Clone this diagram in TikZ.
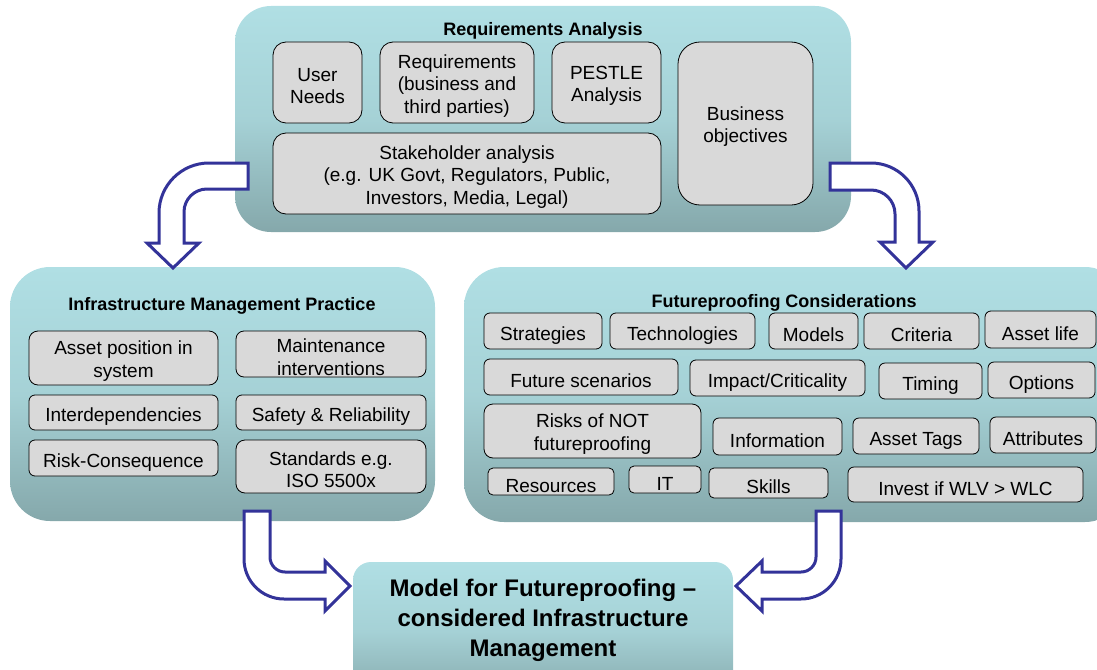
\documentclass[tikz,border=0pt]{standalone}
\usepackage{fontspec}
\setmainfont{Liberation Sans}
\definecolor{paneltop}{RGB}{176,223,228}
\definecolor{panelbot}{RGB}{133,168,171}
\definecolor{boxgrey}{RGB}{217,217,217}
\definecolor{arrowblue}{RGB}{51,51,153}
\newcommand\tallstrut{\rule{0pt}{20pt}}
\begin{document}
\begin{tikzpicture}[x=1pt,y=-1pt,
    panel/.style={rectangle, rounded corners=#1, inner sep=0pt,
      top color=paneltop, bottom color=panelbot, middle color=paneltop!75!panelbot},
    item/.style={rectangle, rounded corners=#1, draw=black, line width=0.8pt,
      fill=boxgrey, inner sep=0pt, align=center, font=\fontsize{19}{22.5}\selectfont,
      execute at begin node={\rule{0pt}{22pt}}},
    item/.default=6pt,
    heading/.style={inner sep=0pt, font=\bfseries\fontsize{18}{22}\selectfont},
    bigheading/.style={inner sep=0pt, align=center, font=\bfseries\fontsize{24}{30}\selectfont},
    blockarrow/.style={draw=arrowblue, line width=3pt, fill=white}]
  \useasboundingbox (0,0) rectangle (1097,669);
  \clip (0,0) rectangle (1097,669);
  \node[panel=36pt, minimum width=616pt, minimum height=226pt] (req) at (543,119) {};
  \node[panel=40pt, minimum width=425pt, minimum height=254pt] (imp) at (222.5,394) {};
  \node[panel=40pt, minimum width=661pt, minimum height=255pt] (fut) at (794.5,394.5) {};
  \node[panel=18pt, minimum width=380pt, minimum height=138pt] (model) at (543,631) {};
  \node[heading] (reqt) at (543,31) {Requirements Analysis};
  \node[heading] (impt) at (222,306) {Infrastructure Management Practice};
  \node[heading] (futt) at (784,303) {Futureproofing Considerations};
  \node[bigheading] (modelt) at (543,620) {Model for Futureproofing --\\considered Infrastructure\\Management};
  \node[item=13pt, minimum width=89pt, minimum height=81pt] (user) at (317.5,82.5) {\tallstrut User\\Needs};
  \node[item=13pt, minimum width=154pt, minimum height=81pt] (reqs) at (457,82.5) {\tallstrut Requirements\\(business and\\third parties)};
  \node[item=13pt, minimum width=109pt, minimum height=81pt] (pestle) at (606.5,82.5) {\tallstrut PESTLE\\Analysis};
  \node[item=22pt, minimum width=135pt, minimum height=163pt] (busobj) at (745.5,123.5) {\tallstrut Business\\objectives};
  \node[item=13pt, minimum width=388pt, minimum height=81pt] (stake) at (467,173.5) {\tallstrut Stakeholder analysis\\(e.g. UK Govt, Regulators, Public,\\Investors, Media, Legal)};
  \node[item=9pt, minimum width=189pt, minimum height=54pt] (assetpos) at (123.5,358) {\tallstrut Asset position in\\system};
  \node[item=8pt, minimum width=190pt, minimum height=46pt] (maint) at (331,354) {\tallstrut Maintenance\\interventions};
  \node[item, minimum width=189pt, minimum height=35pt] (interdep) at (123.5,412.5) {Interdependencies};
  \node[item, minimum width=190pt, minimum height=35pt] (safety) at (331,412.5) {Safety \& Reliability};
  \node[item, minimum width=189pt, minimum height=36pt] (riskcon) at (123.5,458) {Risk-Consequence};
  \node[item=9pt, minimum width=190pt, minimum height=53pt] (standards) at (331,466.5) {\tallstrut Standards e.g.\\ISO 5500x};
  \node[item, minimum width=118pt, minimum height=36pt] (strat) at (543,331) {Strategies};
  \node[item, minimum width=145pt, minimum height=36pt] (tech) at (682.5,331) {Technologies};
  \node[item, minimum width=89pt, minimum height=36pt] (models) at (813.5,331) {Models};
  \node[item, minimum width=115pt, minimum height=36pt] (crit) at (921.5,331) {Criteria};
  \node[item, minimum width=111pt, minimum height=37pt] (life) at (1040.5,329.5) {Asset life};
  \node[item, minimum width=194pt, minimum height=36pt] (scen) at (581,377) {Future scenarios};
  \node[item, minimum width=175pt, minimum height=36pt] (impact) at (777.5,378) {Impact/Criticality};
  \node[item, minimum width=103pt, minimum height=36pt] (timing) at (930.5,381) {Timing};
  \node[item, minimum width=107pt, minimum height=36pt] (options) at (1041.5,380) {Options};
  \node[item=9pt, minimum width=217pt, minimum height=54pt] (risknot) at (592.5,431) {\tallstrut Risks of NOT\\futureproofing};
  \node[item, minimum width=129pt, minimum height=37pt] (info) at (777.5,436.5) {Information};
  \node[item, minimum width=126pt, minimum height=36pt] (tags) at (916,436) {Asset Tags};
  \node[item, minimum width=106pt, minimum height=36pt] (attr) at (1043,435) {Attributes};
  \node[item=5pt, minimum width=126pt, minimum height=27pt] (res) at (551,481.5) {Resources};
  \node[item=5pt, minimum width=72pt, minimum height=27pt] (it) at (665,479.5) {IT};
  \node[item=5pt, minimum width=119pt, minimum height=30pt] (skills) at (768.5,483) {Skills};
  \node[item, minimum width=235pt, minimum height=35pt] (invest) at (965.5,484.5) {Invest if WLV > WLC};
  \draw[blockarrow] (248,163) [rounded corners=50pt] -- (159,163) [sharp corners] -- (159,243)
    -- (147,243) -- (173,268) -- (199,243) -- (184,243) [rounded corners=23pt] -- (184,189)
    [sharp corners] -- (248,189) -- cycle;
  \draw[blockarrow] (830,163) [rounded corners=48pt] -- (919,163) [sharp corners] -- (919,242)
    -- (933,242) -- (906,268) -- (880,242) -- (895,242) [rounded corners=24pt] -- (895,190)
    [sharp corners] -- (830,190) -- cycle;
  \draw[blockarrow] (244,511) [rounded corners=40pt] -- (244,599) [sharp corners] -- (325,599)
    -- (325,611) -- (350,586) -- (325,561) -- (325,572) [rounded corners=15pt] -- (270,572)
    [sharp corners] -- (270,511) -- cycle;
  \draw[blockarrow] (841,511) [rounded corners=40pt] -- (841,599) [sharp corners] -- (762,599)
    -- (762,611) -- (736,586) -- (762,561) -- (762,572) [rounded corners=15pt] -- (816,572)
    [sharp corners] -- (816,511) -- cycle;
\end{tikzpicture}
\end{document}
